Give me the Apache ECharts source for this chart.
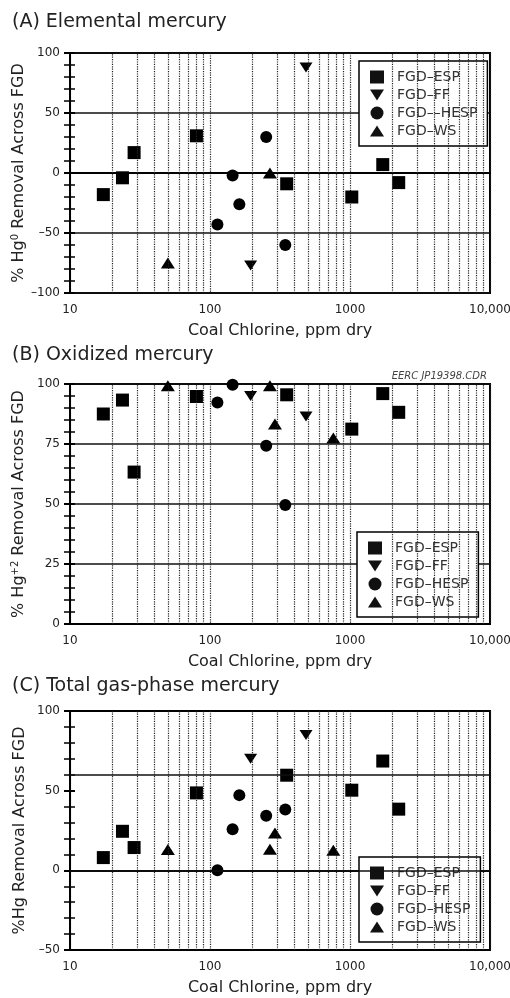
<!DOCTYPE html>
<html><head><meta charset="utf-8">
<script src="https://cdn.jsdelivr.net/npm/echarts@6/dist/echarts.min.js"></script>
<style>html,body{margin:0;padding:0;background:#fff}#c{width:510px;height:998px}</style>
</head><body><div id="c"></div>
<script>
const FONT = 'DejaVu Sans';

// Coal chlorine (ppm dry) per configuration
const espCl  = [17.3, 23.7, 28.7, 80, 353, 1030, 1714, 2228];
const ffCl   = [195, 485];
const hespCl = [113, 145, 162, 252, 345];
const wsCl   = [50, 268, 291, 760];

// (A) Elemental mercury removal, %
const espElemental  = [-18, -4, 17, 31, -9, -20, 7, -8];
const ffElemental   = [-77, 88];
const hespElemental = [-43, -2, -26, 30, -60];
const wsElemental   = [-75, 0, null, null];

// (B) Oxidized mercury removal, %
const espOxidized  = [87.5, 93.3, 63.3, 94.8, 95.5, 81.2, 96, 88.2];
const ffOxidized   = [95, 86.5];
const hespOxidized = [92.3, 99.7, null, 74.3, 49.6];
const wsOxidized   = [99.3, 99.3, 83.3, 77.5];

// (C) Total gas-phase mercury removal, %
const espTotal  = [8, 24.5, 14.3, 48.6, 59.7, 50.3, 68.6, 38.4];
const ffTotal   = [70, 85];
const hespTotal = [0, 25.8, 47.2, 34.2, 38.2];
const wsTotal   = [13, 13.2, 23.5, 12.6];

// axis ticks / gridlines
const xTickLabels = ['10', '100', '1000', '10,000'];
const minorXGrid = [20, 30, 40, 50, 60, 70, 80, 90, 200, 300, 400, 500, 600, 700, 800, 900, 2000, 3000, 4000, 5000, 6000, 7000, 8000, 9000];
const totalRefLines = [0, 60];

const titles = ['(A) Elemental mercury', '(B) Oxidized mercury', '(C) Total gas-phase mercury'];
const legendA = ['FGD–ESP', 'FGD–FF', 'FGD––HESP', 'FGD–WS'];
const legendBC = ['FGD–ESP', 'FGD–FF', 'FGD–HESP', 'FGD–WS'];

const panels = [
  {title: titles[0], titleTop: 13, top: 53, height: 240, min: -100, max: 100, interval: 50,
   yName: '% Hg{sup|0} Removal Across FGD', names: legendA,
   ys: [espElemental, ffElemental, hespElemental, wsElemental], hLines: null, legLeft: 359, legTop: 61},
  {title: titles[1], titleTop: 346, top: 384, height: 240, min: 0, max: 100, interval: 25,
   yName: '% Hg{sup|+2} Removal Across FGD', names: legendBC,
   ys: [espOxidized, ffOxidized, hespOxidized, wsOxidized], hLines: null, legLeft: 357, legTop: 532},
  {title: titles[2], titleTop: 677, top: 711, height: 239, min: -50, max: 100, interval: 50,
   yName: '%Hg Removal Across FGD', names: legendBC,
   ys: [espTotal, ffTotal, hespTotal, wsTotal], hLines: totalRefLines, legLeft: 359, legTop: 857}
];

const cls = [espCl, ffCl, hespCl, wsCl];
const symbols = [
  {symbol: 'rect', symbolSize: 13, symbolRotate: 0},
  {symbol: 'triangle', symbolSize: [13, 10], symbolRotate: 180},
  {symbol: 'circle', symbolSize: 12, symbolRotate: 0},
  {symbol: 'triangle', symbolSize: [14, 11], symbolRotate: 0}
];
const legendIcons = ['rect', 'path://M0,0L10,0L5,8Z', 'circle', 'path://M5,0L10,8L0,8Z'];

function pairs(xs, ys) {
  const out = [];
  xs.forEach((x, i) => { if (ys[i] !== null && ys[i] !== undefined) out.push([x, ys[i]]); });
  return out;
}
const fmtY = v => (v < 0 ? '–' + Math.abs(v) : String(v));
const fmtX = v => xTickLabels[Math.round(Math.log10(v)) - 1] || '';

const option = {
  animation: false,
  backgroundColor: '#fff',
  title: [], grid: [], xAxis: [], yAxis: [], legend: [], series: []
};

panels.forEach((p, i) => {
  option.title.push({text: p.title, left: 12, top: p.titleTop, padding: 0,
    textStyle: {fontFamily: FONT, fontSize: 19, fontWeight: 'normal', color: '#222'}});
  option.grid.push({left: 70, top: p.top, width: 420, height: p.height, show: true,
    borderColor: '#000', borderWidth: 2, backgroundColor: 'transparent', outerBoundsMode: 'none', containLabel: false});
  option.xAxis.push({gridIndex: i, type: 'log', logBase: 10, min: 10, max: 10000,
    axisLine: {show: true, lineStyle: {color: '#000', width: 2}},
    axisTick: {show: false},
    splitLine: {show: true, lineStyle: {color: '#222', type: 'dotted', width: 1.2}},
    axisLabel: {formatter: fmtX, fontFamily: FONT, fontSize: 12, color: '#222', margin: 11},
    name: 'Coal Chlorine, ppm dry', nameLocation: 'middle', nameGap: 30, nameMoveOverlap: false,
    nameTextStyle: {fontFamily: FONT, fontSize: 16, color: '#222'}});
  option.yAxis.push({gridIndex: i, type: 'value', min: p.min, max: p.max, interval: p.interval,
    axisLine: {show: true, lineStyle: {color: '#000', width: 2}},
    axisTick: {show: true, inside: false, length: 6, lineStyle: {color: '#000', width: 2}},
    minorTick: {show: true, splitNumber: 5, length: 6, lineStyle: {color: '#000', width: 1.5}},
    splitLine: {show: !p.hLines, lineStyle: {color: '#111', width: 1.5}},
    axisLabel: {formatter: fmtY, fontFamily: FONT, fontSize: 12, color: '#222', margin: 10},
    name: p.yName, nameLocation: 'middle', nameRotate: 90, nameGap: 42, nameMoveOverlap: false,
    nameTextStyle: {fontFamily: FONT, fontSize: 16, color: '#222',
      rich: {sup: {fontFamily: FONT, fontSize: 10, color: '#222', padding: [0, 0, 8, 0]}}}});
  // inward half of the straddling tick marks (an axis on the right, moved onto the left edge)
  option.yAxis.push({gridIndex: i, type: 'value', min: p.min, max: p.max, interval: p.interval,
    position: 'right', offset: -420,
    axisLine: {show: false},
    axisTick: {show: true, inside: false, length: 5, lineStyle: {color: '#000', width: 2}},
    minorTick: {show: true, splitNumber: 5, length: 5, lineStyle: {color: '#000', width: 1.5}},
    splitLine: {show: false}, axisLabel: {show: false}});
  option.legend.push({orient: 'vertical', left: p.legLeft, top: p.legTop,
    data: p.names.map((nm, k) => ({name: nm, icon: legendIcons[k]})),
    backgroundColor: '#fff', borderColor: '#000', borderWidth: 1.5, borderRadius: 0,
    padding: [9, 10, 8, 11], itemGap: 4, itemWidth: 14, itemHeight: 13, selectedMode: false,
    itemStyle: {color: '#111', opacity: 1},
    textStyle: {fontFamily: FONT, fontSize: 14, color: '#333', padding: [0, 0, 0, 8]}});

  // minor vertical dotted gridlines
  option.series.push({type: 'scatter', xAxisIndex: i, yAxisIndex: 2 * i, data: [], silent: true, z: 1,
    markLine: {silent: true, symbol: ['none', 'none'], animation: false, label: {show: false},
      lineStyle: {color: '#222', type: 'dotted', width: 1.2},
      data: minorXGrid.map(v => ({xAxis: v}))}});
  if (p.hLines) {
    option.series.push({type: 'scatter', xAxisIndex: i, yAxisIndex: 2 * i, data: [], silent: true, z: 1,
      markLine: {silent: true, symbol: ['none', 'none'], animation: false, label: {show: false},
        lineStyle: {color: '#111', type: 'solid', width: 1.5},
        data: p.hLines.map(v => ({yAxis: v}))}});
  }
  p.names.forEach((nm, k) => {
    option.series.push(Object.assign({type: 'scatter', name: nm, xAxisIndex: i, yAxisIndex: 2 * i, z: 3,
      itemStyle: {color: '#000', opacity: 1}, data: pairs(cls[k], p.ys[k])}, symbols[k]));
  });
});

option.title.push({text: 'EERC JP19398.CDR', right: 23, top: 371, padding: 0,
  textStyle: {fontFamily: FONT, fontSize: 10, fontStyle: 'italic', fontWeight: 'normal', color: '#444'}});

const chart = echarts.init(document.getElementById('c'), null, {renderer: 'canvas'});
chart.setOption(option);
</script></body></html>
